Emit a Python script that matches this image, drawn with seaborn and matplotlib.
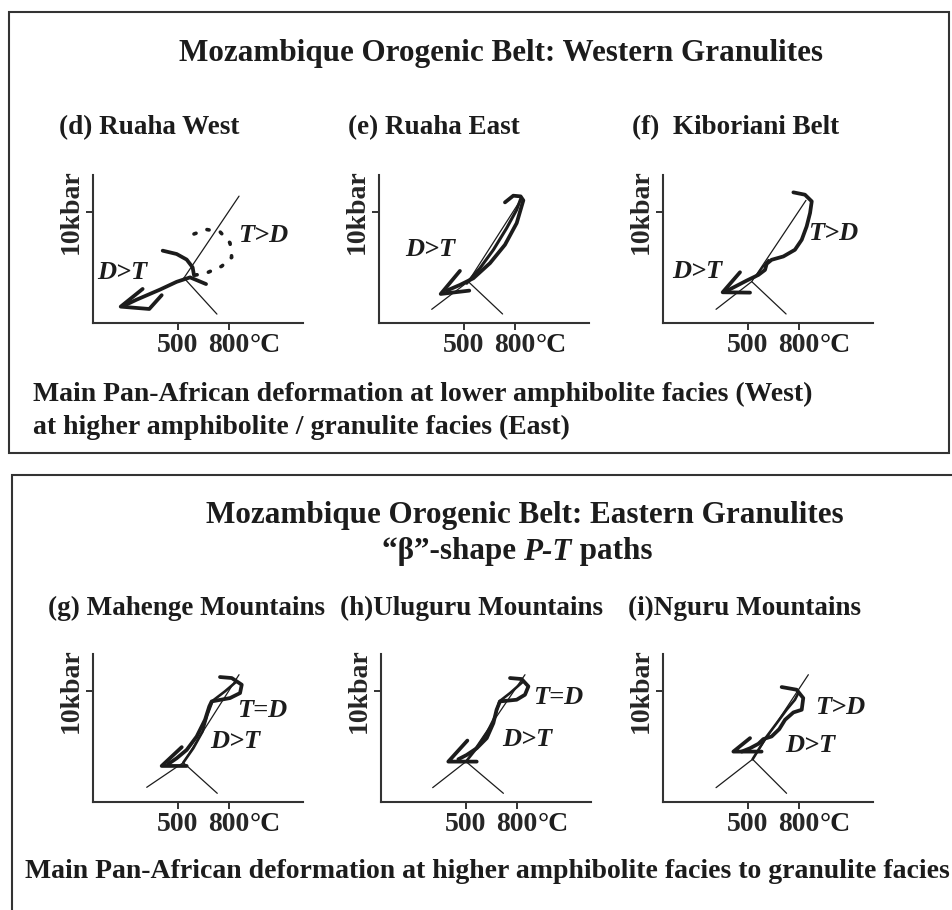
import matplotlib
matplotlib.use('Agg')
import matplotlib.pyplot as plt
import matplotlib.transforms as mtransforms
from matplotlib.patches import Rectangle
import seaborn as sns

# P-T axes shared by all six sketches
x_ticks = [500, 800]
x_tick_labels = ['500', '800']
y_ticks = [10]
y_tick_labels = ['10kbar']
t_max = 1235
p_max = 13.3

# (d) Ruaha West
d_reaction_T = [535, 859]
d_reaction_P = [4.05, 11.4]
d_branch_T = [535, 729]
d_branch_P = [4.05, 0.8]
d_path_T = [410, 492, 551, 586, 594]
d_path_P = [6.5, 6.2, 5.7, 5.0, 4.3]
d_inner_T = [665, 571, 492, 394, 257, 188]
d_inner_P = [3.5, 4.1, 3.7, 3.0, 2.1, 1.6]
d_loop_T = [594, 669, 747, 806, 816, 757, 669, 600]
d_loop_P = [8.0, 8.4, 8.2, 7.2, 5.9, 5.1, 4.5, 4.3]
d_arrow_T = [292, 163, 331, 404]
d_arrow_P = [3.06, 1.47, 1.26, 2.5]
d_labels = ['D>T', 'T>D']
d_label_T = [24, 853]
d_label_P = [4.5, 7.9]

# (e) Ruaha East
e_reaction_T = [310, 525, 839]
e_reaction_P = [1.23, 3.72, 11.2]
e_branch_T = [525, 727]
e_branch_P = [3.72, 0.81]
e_path_T = [741, 790, 833, 849, 810, 741, 653, 555, 476, 398]
e_path_P = [10.84, 11.44, 11.38, 11.02, 8.98, 7.03, 5.38, 4.02, 3.42, 2.91]
e_inner_T = [516, 594, 673, 751, 810, 833]
e_inner_P = [3.57, 4.93, 6.58, 8.53, 10.18, 11.14]
e_arrow_T = [476, 363, 531]
e_arrow_P = [4.68, 2.61, 2.91]
e_labels = ['D>T']
e_label_T = [153]
e_label_P = [6.6]

# (f) Kiboriani Belt
f_reaction_T = [312, 522, 841]
f_reaction_P = [1.23, 3.72, 11.02]
f_branch_T = [522, 724]
f_branch_P = [3.72, 0.81]
f_path_T = [767, 835, 875, 865, 845, 816, 776, 708, 639, 610, 600, 561, 492, 424, 378]
f_path_P = [11.74, 11.53, 10.93, 9.88, 8.68, 7.48, 6.58, 5.98, 5.68, 5.32, 4.77, 4.32, 3.81, 3.27, 2.91]
f_inner_T = [541, 580, 620]
f_inner_P = [4.1, 4.9, 5.68]
f_arrow_T = [453, 351, 512]
f_arrow_P = [4.56, 2.76, 2.73]
f_labels = ['D>T', 'T>D']
f_label_T = [53, 853]
f_label_P = [4.6, 8.0]

# (g) Mahenge Mountains
g_reaction_T = [316, 531, 859]
g_reaction_P = [1.32, 3.54, 11.44]
g_branch_T = [531, 731]
g_branch_P = [3.54, 0.78]
g_path_T = [747, 816, 875, 865, 806, 698, 684, 659, 610, 551, 492, 443]
g_path_P = [11.23, 11.14, 10.54, 9.79, 9.34, 9.04, 8.59, 7.39, 5.89, 4.68, 3.93, 3.42]
g_inner_T = [531, 590, 645, 673, 704, 776, 845]
g_inner_P = [3.54, 4.83, 6.34, 7.84, 9.1, 9.94, 10.84]
g_arrow_T = [522, 404, 551]
g_arrow_P = [4.93, 3.24, 3.24]
g_labels = ['T=D', 'D>T']
g_label_T = [845, 688]
g_label_P = [8.2, 5.4]

# (h) Uluguru Mountains
h_reaction_T = [304, 500, 847]
h_reaction_P = [1.29, 3.63, 11.44]
h_branch_T = [500, 720]
h_branch_P = [3.63, 0.78]
h_path_T = [759, 827, 867, 847, 798, 700, 680, 661, 622, 563, 504, 455]
h_path_P = [11.14, 11.05, 10.39, 9.64, 9.19, 9.04, 8.29, 7.09, 5.74, 4.83, 4.23, 3.84]
h_inner_T = [500, 563, 622, 671, 696, 759, 837]
h_inner_P = [3.63, 4.83, 6.19, 7.69, 9.04, 9.79, 10.84]
h_arrow_T = [508, 396, 563]
h_arrow_P = [5.52, 3.63, 3.63]
h_labels = ['T=D', 'D>T']
h_label_T = [894, 712]
h_label_P = [9.4, 5.6]

# (i) Nguru Mountains
i_reaction_T = [312, 527, 855]
i_reaction_P = [1.29, 3.84, 11.44]
i_branch_T = [527, 727]
i_branch_P = [3.84, 0.78]
i_path_T = [698, 786, 825, 816, 767, 718, 684, 639, 590, 561, 512, 463]
i_path_P = [10.33, 10.09, 9.34, 8.29, 8.05, 7.39, 6.55, 5.89, 5.65, 5.23, 4.83, 4.53]
i_inner_T = [527, 561, 610, 669, 727, 776, 796]
i_inner_P = [3.84, 4.68, 5.89, 7.09, 8.29, 9.19, 9.79]
i_arrow_T = [512, 414, 580]
i_arrow_P = [5.74, 4.53, 4.53]
i_labels = ['T>D', 'D>T']
i_label_T = [894, 718]
i_label_P = [8.5, 5.1]

panel_titles = ['(d) Ruaha West', '(e) Ruaha East', '(f)  Kiboriani Belt',
                '(g) Mahenge Mountains', '(h)Uluguru Mountains', '(i)Nguru Mountains']

W, H = 952, 910
INK = '#1c1c1c'

sns.set_style('ticks')
plt.rcParams['font.family'] = ['Liberation Serif', 'DejaVu Serif']
plt.rcParams['font.weight'] = 'bold'

fig = plt.figure(figsize=(W / 100, H / 100), dpi=100)


def px_text(x, y, s, **kw):
    return fig.text(x / W, 1 - y / H, s, **kw)


def draw_panel(left, bottom, reaction, branch, path, inner, arrow, labels,
               inner_lw=1.9, loop=None):
    ax = fig.add_axes([left / W, 1 - bottom / H, t_max * 0.17 / W, 148 / H])
    kw = dict(ax=ax, sort=False, estimator=None, color=INK, legend=False)
    thick = dict(solid_joinstyle='round', solid_capstyle='round')
    sns.lineplot(x=reaction[0], y=reaction[1], lw=0.9, **kw)
    sns.lineplot(x=branch[0], y=branch[1], lw=0.9, **kw)
    if loop is not None:
        sns.lineplot(x=loop[0], y=loop[1], lw=2.6, linestyle=(0, (0.6, 3.2)),
                     dash_capstyle='round', **kw)
    sns.lineplot(x=inner[0], y=inner[1], lw=inner_lw, **thick, **kw)
    sns.lineplot(x=path[0], y=path[1], lw=2.7, **thick, **kw)
    sns.lineplot(x=arrow[0], y=arrow[1], lw=2.7, **thick, **kw)
    for s, t, p in zip(*labels):
        ax.text(t, p, s, fontsize=19, fontweight='bold', style='italic',
                ha='left', va='center', color=INK, clip_on=False)

    ax.set_xlim(0, t_max)
    ax.set_ylim(0, p_max)
    sns.despine(ax=ax)
    for side in ('left', 'bottom'):
        ax.spines[side].set_linewidth(1.5)
        ax.spines[side].set_color('#333333')
    ax.set_xticks(x_ticks, x_tick_labels)
    ax.set_yticks(y_ticks)
    ax.set_yticklabels(y_tick_labels, rotation=90, va='center')
    ax.tick_params(direction='out', length=5, width=1.4, color='#333333',
                   labelsize=20, pad=2)
    ax.set_xlabel('')
    ax.set_ylabel('')
    # degree sign hangs right of the 800 label
    off = mtransforms.ScaledTranslation(14.5 / 72, -7 / 72, fig.dpi_scale_trans)
    ax.text(800, 0, '°C', transform=ax.get_xaxis_transform() + off,
            fontsize=20, fontweight='bold', ha='left', va='top', color=INK)
    return ax


draw_panel(93, 323, (d_reaction_T, d_reaction_P), (d_branch_T, d_branch_P),
           (d_path_T, d_path_P), (d_inner_T, d_inner_P), (d_arrow_T, d_arrow_P),
           (d_labels, d_label_T, d_label_P), inner_lw=2.7, loop=(d_loop_T, d_loop_P))
draw_panel(379, 323, (e_reaction_T, e_reaction_P), (e_branch_T, e_branch_P),
           (e_path_T, e_path_P), (e_inner_T, e_inner_P), (e_arrow_T, e_arrow_P),
           (e_labels, e_label_T, e_label_P), inner_lw=2.2)
draw_panel(663, 323, (f_reaction_T, f_reaction_P), (f_branch_T, f_branch_P),
           (f_path_T, f_path_P), (f_inner_T, f_inner_P), (f_arrow_T, f_arrow_P),
           (f_labels, f_label_T, f_label_P), inner_lw=1.4)
draw_panel(93, 802, (g_reaction_T, g_reaction_P), (g_branch_T, g_branch_P),
           (g_path_T, g_path_P), (g_inner_T, g_inner_P), (g_arrow_T, g_arrow_P),
           (g_labels, g_label_T, g_label_P))
draw_panel(381, 802, (h_reaction_T, h_reaction_P), (h_branch_T, h_branch_P),
           (h_path_T, h_path_P), (h_inner_T, h_inner_P), (h_arrow_T, h_arrow_P),
           (h_labels, h_label_T, h_label_P))
draw_panel(663, 802, (i_reaction_T, i_reaction_P), (i_branch_T, i_branch_P),
           (i_path_T, i_path_P), (i_inner_T, i_inner_P), (i_arrow_T, i_arrow_P),
           (i_labels, i_label_T, i_label_P))

# frames round the two groups
fig.add_artist(Rectangle((9 / W, 1 - 453 / H), 940 / W, 441 / H, transform=fig.transFigure,
                         fill=False, lw=1.5, ec='#333333'))
fig.add_artist(Rectangle((12 / W, 1 - 930 / H), 960 / W, 455 / H, transform=fig.transFigure,
                         fill=False, lw=1.5, ec='#333333', clip_on=False))

bold = dict(fontsize=19.5, fontweight='bold', color=INK, va='center')
px_text(501, 53, 'Mozambique Orogenic Belt: Western Granulites', ha='center',
        fontsize=22.4, fontweight='bold', color=INK, va='center')
px_text(59, 128, panel_titles[0], ha='left', **bold)
px_text(348, 128, panel_titles[1], ha='left', **bold)
px_text(632, 128, panel_titles[2], ha='left', **bold)
px_text(33, 394, 'Main Pan-African deformation at lower amphibolite facies (West)',
        ha='left', fontsize=20, fontweight='bold', color=INK, va='center')
px_text(33, 427, 'at higher amphibolite / granulite facies (East)',
        ha='left', fontsize=20, fontweight='bold', color=INK, va='center')

px_text(525, 516, 'Mozambique Orogenic Belt: Eastern Granulites', ha='center',
        fontsize=22.4, fontweight='bold', color=INK, va='center')
# second title line: "P-T" in italics, pieces laid side by side
renderer = fig.canvas.get_renderer()
pieces = [('“β”-shape ', 'normal'), ('P-T', 'italic'), (' paths', 'normal')]
arts = [px_text(0, 552, s, ha='left', fontsize=22.4, fontweight='bold', style=st,
                color=INK, va='center') for s, st in pieces]
widths = [a.get_window_extent(renderer).width for a in arts]
x0 = 517 - sum(widths) / 2
for a, w in zip(arts, widths):
    a.set_x(x0 / W)
    x0 += w

px_text(48, 608, panel_titles[3], ha='left', **bold)
px_text(340, 608, panel_titles[4], ha='left', **bold)
px_text(628, 608, panel_titles[5], ha='left', **bold)
px_text(25, 872, 'Main Pan-African deformation at higher amphibolite facies to granulite facies',
        ha='left', fontsize=20, fontweight='bold', color=INK, va='center')

fig.savefig('out.png', dpi=100)
